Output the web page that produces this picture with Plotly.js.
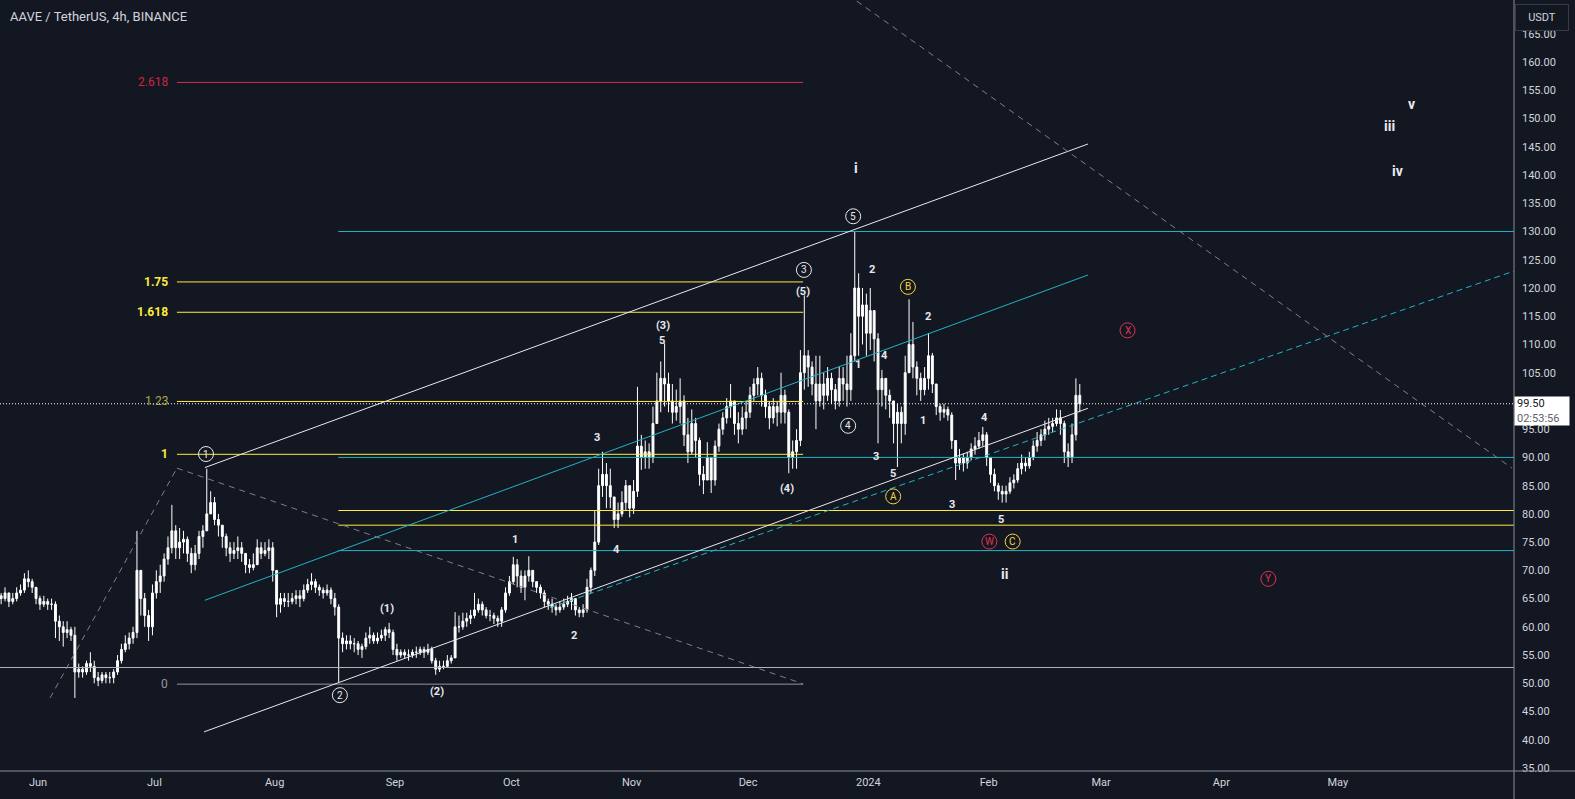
<!DOCTYPE html>
<html>
<head>
<meta charset="utf-8">
<script src="https://cdn.plot.ly/plotly-3.0.1.min.js"></script>
<style>html,body{margin:0;padding:0;background:#131722;}#chart{width:1575px;height:799px;}</style>
</head>
<body>
<div id="chart"></div>
<script>
// ---------------- DATA (daily bars) ----------------
const startDate = '2023-05-20';
const closes = [
66,65.5,65,66,64.5,65,66,66.5,68.5,68,67,65,
64,64.5,64,64,61,60,59,59.5,58.5,52,
52.5,52,53.5,53,51,50.5,51.5,51,51,52,
54,56,57,58,59,70,65,62,60,66,
68,69,72,74,77,74,75,75.5,73,71,
73,76,77,80,82,79,78,76,74,73,
73.5,74,73,71,70.5,71,74,73,73.5,74,
70,64,65,64.5,64.5,65,65.5,65,66.5,67.5,
68,67,66.5,66,66.5,65,63.5,58,57,57.5,
57,57,56,56.5,58,58.5,57.5,58,58.5,59.5,
59,56,55,55.5,55,55,55.5,55.5,56,55.5,
56,54,52.5,53,53,54,54.5,60,60,61,
61.5,62,63,64,63,62,62,61.5,61,63,
66,68,71,69,67,69,70,68,67,66,
64.5,64,63.5,63,63.5,64,64.5,65,63,62.5,
63,67,70,75,85,87,85,83,79,80,
82,85,81,84,92,90,91,90,96,100,
104,103,100,98,99,100,94,91,96,93,
87,86,90,86,92,95,97,99,100,96,
95,97,98,101,103,104,101,99,97,99,
98,101,98,90,91,93,105,108,106,103,
100,103,101,104,102,100,104,103,102,108,
120,115,117,112,116,111,102,104,101,100,
96,98,96,105,110,106,104,102,104,108,
103,99,98,98.5,97.5,93,89,90,89,90,
91.5,92,93,94,90,87,85,84,83.5,84,
85.5,86,88,89,88.5,90,92,93,94,95,
95.5,96,97,96,91,90,94,101,99.5
];
const highs = [
67,66.5,66,67,66,66,67,67.5,69.5,70,68.5,67,
65.5,65.5,65,65,64.5,62,61,61,60,60,
53.5,53,54,55.5,54,52,52,52,52,52.5,
55,57,58.5,59,60,77,70,66,63,67.5,
70,71,73,76,81.6,78,77.5,77,76,74,
74.5,77,78,88,84,83,80,78,76.5,75,
75,76,75,73,72,73,75.5,75,75,75.5,
75,70,66,66,66,66,66.5,66.5,67.5,68.5,
69.5,68.5,67.5,67,67.5,67,66,64,59,58.5,
58.5,58,57.5,57,59,60,59,59,59.5,60,
60.7,59.5,57,56,56,56,56,56.5,56.5,56.5,
57,56.5,54.5,54,54,55,55,62.6,62,62.5,
62.5,63,66,65,64.5,63.5,63,62.5,62,63.5,
67,69,72.4,72,70,70,72.5,70,68,67.5,
66.5,65,65,64,64.5,65,65.5,66,65,63.5,
64,68.5,70.5,80.5,88,91,89,88,83,82,
84,86,85,86,102.5,94,93,92.5,99,105,
107,110.2,105,103,102,104,101,97,98.5,97,
93.5,88.5,92.7,90,93,96,98,100.5,103,100,
98,99,100,102.5,104,106,105,102,100,100.5,
100,105,102,98.5,93,95,109,118.7,109,107,
108,108,105,106,105,103,106,106,108,112,
129.9,122.6,120,119,120,116,112,105.5,104,102,
100,99.5,99,108,118,114,107,105,106,112,
108.5,103,99.5,99.5,99,98,93,91.5,90.7,91,
92.5,93.6,94.5,95.4,94.5,90,88,85.5,85,85,
86.5,87,89,90.5,90,91,93,94.5,95,96.5,
97,97,98.5,98.4,96.5,92.5,96,104,103
];
const lows = [
65,64.5,64,64.5,63.5,64,64.5,65.5,66,67,66,64,
63,63.5,63,63,58,57.5,56.5,58,57.5,47.4,
51,51,51.5,52,50,49.5,50,50,50,50,
51.5,53.5,55.5,56,57,58,62,60,57.5,58.5,
65,66,68,71,73,72,72,73,71.5,69.5,
70,72,74,77,80,78,76,74,72.5,71.5,
72,72,71.5,69.5,69.5,70,71,72,72.5,72,
68,61.7,62.5,63.5,63.5,64,64,63.5,64.5,66,
66.5,66,65.5,65,65.5,64,62,50.2,55.5,56,
56,55.5,55,54.5,56,57,57,57,57.5,57.5,
58,55,54,54.5,54.5,54,54.5,54.5,55,54.5,
55,53.5,51.5,52,52.5,53,53.5,54.5,59,59.5,
60,60.5,61.5,62.5,62,61.5,61,60.5,60,60,
62.5,65.5,67.5,67,66,64.7,68,67,66,65,
63.5,63,62.5,62,62.5,63,63.5,63,62,61.7,
61.7,62.5,66,69,74.5,83,81,81,77.5,77.5,
79.5,80.5,79.4,80,83,87.8,88,88,89,96,
98,99,98,96,96.5,96,92,89,90.5,90,
85,83.5,86,83.7,85,91,94,96,97,94,
92.5,94,95,97,100,101,99,97,95,96,
95.5,96,96,87.2,88,88,92,102,102.5,101,
95,99,98.5,100,99.5,98.5,99,100,99,100,
107,108,110,108,109,107,92.5,99,98.5,97,
92.5,88.3,92.5,94,105,104,101,100,101,102,
101.4,97.5,96.5,97,96.5,91.5,86,87.8,87.5,88,
89.5,90.5,91.5,92,88.5,85.5,84,82.5,82,82,
83.5,84.5,85.5,87,87.5,88,89.5,91,92,93,
94,94.5,95.5,94,89,88.3,89,93,98
];
const lastPrice = 99.50;
const timerText = '02:53:56';

const monthTickDates = ['2023-06-01','2023-07-01','2023-08-01','2023-09-01','2023-10-01','2023-11-01','2023-12-01','2024-01-01','2024-02-01','2024-03-01','2024-04-01','2024-05-01'];
const monthTickText  = ['Jun','Jul','Aug','Sep','Oct','Nov','Dec','2024','Feb','Mar','Apr','May'];
// 100.00 sits under the last-price label, so it is not listed
const priceTicks = [35,40,45,50,55,60,65,70,75,80,85,90,95,105,110,115,120,125,130,135,140,145,150,155,160,165];

// Fibonacci trend extension (left) : base and level-1 prices, ratios
const fibBase = 49.85, fibOne = 90.55;
const fibRatios = [0, 1, 1.23, 1.618, 1.75, 2.618];
const fibLabels = ['0','1','1.23','1.618','1.75','2.618'];

// Right-extended horizontal levels (prices)
const cyanLevels = [130.0, 90.0, 73.5];
const yellowLevels = [80.6, 78.0];
const greyLevel = 52.8;

// Elliott wave labels : [text, day offset from 2023-06-01, price]
const circledWhite = [['1',43.3,90.6],['2',77.8,47.9],['3',197.4,123.2],['4',208.8,95.6],['5',210.1,132.7]];
const circledYellow = [['A',220.4,83.1],['B',224.2,120.2],['C',251.2,75.1]];
const circledRed = [['W',245.2,75.1],['X',280.8,112.5],['Y',317.1,68.5]];
const smallLabels = [['(1)',90.0,63.2],['(2)',102.8,48.5],['1',122.9,75.5],['2',138.1,58.4],['3',144.0,93.5],['4',149.0,73.7],
  ['(3)',161.2,113.3],['5',160.7,110.7],['(4)',193.0,84.5],['(5)',197.1,119.3],['2',214.9,123.3],['1',211.3,106.4],
  ['4',218.1,108.1],['2',229.3,115.0],['1',228.0,96.5],['3',215.9,90.2],['5',220.4,87.1],['4',243.9,97.1],['3',235.6,81.7],['5',248.3,79.0]];
const romanLabels = [['i',210.8,141.2],['ii',249.1,69.4],['iii',348.3,148.7],['iv',350.4,140.8],['v',353.9,152.6]];

// ---------------- helpers ----------------
const T0 = Date.UTC(2023,5,1);
function D(d){ return new Date(T0 + d*864e5).toISOString().slice(0,23).replace('T',' '); }
const startOffset = (Date.UTC(2023,4,20) - T0)/864e5;
const xs = [], opens = [];
for (let i=0;i<closes.length;i++){ xs.push(D(startOffset + i + 0.5)); opens.push(i===0?closes[0]:closes[i-1]); }

const BG='#131722', TXT='#d1d4dc', CYAN='#22b3c6', YEL='#ffeb3b', RED='#d0304a', GREY='#9598a1', WHITE='#e8e9ee';

const shapes = [];
const ann = [];
function seg(d0,p0,d1,p1,color,dash,width){ shapes.push({type:'line',xref:'x',yref:'y',x0:D(d0),y0:p0,x1:D(d1),y1:p1,line:{color:color,width:width||1,dash:dash||'solid'}}); }

// fib extension levels
const fibStart=35.8, fibEnd=197.2;
fibRatios.forEach((r,i)=>{
  const p = fibBase + r*(fibOne-fibBase);
  const col = r===0?GREY:(r===2.618?RED:YEL);
  seg(fibStart,p,fibEnd,p,col);
  const lcol = r===0?GREY:(r===2.618?'#c8283f':(r===1.23?'#a9a846':YEL));
  const txt = (r===0||r===2.618||r===1.23)?fibLabels[i]:'<b>'+fibLabels[i]+'</b>';
  ann.push({xref:'x',yref:'y',x:D(34.0),y:p,text:txt,showarrow:false,xanchor:'right',yanchor:'middle',font:{family:'Roboto',size:12,color:lcol}});
});
// right extended levels
const lvlStart=77.4, far=420;
cyanLevels.forEach(p=>seg(lvlStart,p,far,p,CYAN));
yellowLevels.forEach(p=>seg(lvlStart,p,far,p,YEL));
seg(-20,greyLevel,far,greyLevel,'#b2b5be');

// channel
seg(43.0,88.2,270.6,145.5,WHITE);
seg(43.0,64.7,270.6,122.3,CYAN);
seg(42.8,41.4,270.6,98.7,WHITE);
// dashed cyan trend
seg(132.0,63.4,380.4,123.0,CYAN,'6px,4px');
// grey dashed lines
seg(3.1,47.4,35.8,88.1,'#7d808a','6px,5px');
seg(35.8,88.1,197.2,49.9,'#7d808a','6px,5px');
seg(204.1,174.2,379.9,88.1,'#7d808a','6px,5px');
// last price dotted
shapes.push({type:'line',xref:'paper',yref:'y',x0:0,x1:1,y0:lastPrice,y1:lastPrice,line:{color:'#ffffff',width:1,dash:'1px,2px'}});

// circled labels
function circ(list,color){
  list.forEach(l=>{
    shapes.push({type:'circle',xref:'x',yref:'y',xsizemode:'pixel',ysizemode:'pixel',xanchor:D(l[1]),yanchor:l[2],x0:-7.5,x1:7.5,y0:-7.5,y1:7.5,line:{color:color,width:1}});
    ann.push({xref:'x',yref:'y',x:D(l[1]),y:l[2],text:l[0],showarrow:false,xanchor:'center',yanchor:'middle',font:{family:'Roboto',size:10,color:color}});
  });
}
circ(circledWhite,WHITE); circ(circledYellow,'#f5d63d'); circ(circledRed,'#e0334f');
smallLabels.forEach(l=>ann.push({xref:'x',yref:'y',x:D(l[1]),y:l[2],text:'<b>'+l[0]+'</b>',showarrow:false,xanchor:'center',yanchor:'middle',font:{family:'Roboto',size:11,color:WHITE}}));
romanLabels.forEach(l=>ann.push({xref:'x',yref:'y',x:D(l[1]),y:l[2],text:'<b>'+l[0]+'</b>',showarrow:false,xanchor:'center',yanchor:'middle',font:{family:'Roboto',size:14,color:WHITE}}));

// axis frame lines
shapes.push({type:'line',xref:'paper',yref:'paper',x0:1,x1:1,y0:-28/771,y1:1,line:{color:'#8a8d96',width:1}});
shapes.push({type:'line',xref:'paper',yref:'paper',x0:0,x1:1575/1514,y0:0,y1:0,line:{color:'#8a8d96',width:1}});

// title
ann.push({xref:'paper',yref:'paper',x:8/1514,y:(771-16)/771,text:'AAVE / TetherUS, 4h, BINANCE',showarrow:false,xanchor:'left',yanchor:'middle',font:{family:'Roboto',size:13,color:TXT}});
// USDT button
ann.push({xref:'paper',yref:'paper',x:1542/1514,y:(771-17.5)/771,text:'USDT',showarrow:false,xanchor:'center',yanchor:'middle',width:44,height:17,borderpad:4,bgcolor:BG,bordercolor:'#363a45',borderwidth:1,font:{family:'Roboto',size:11,color:TXT}});
// price label
ann.push({xref:'paper',yref:'paper',x:1.0,y:(771-411)/771,text:'<span style="color:#131722">99.50</span><br><span style="color:#5d606b">'+timerText+'</span>',showarrow:false,xanchor:'left',yanchor:'middle',align:'left',width:50,height:24,borderpad:2,bgcolor:'#ffffff',font:{family:'Roboto',size:11,color:'#131722'}});

const trace = {type:'candlestick',x:xs,open:opens,high:highs,low:lows,close:closes,
  increasing:{line:{color:'#ffffff',width:1},fillcolor:'#ffffff'},
  decreasing:{line:{color:'#ffffff',width:1},fillcolor:'#ffffff'},
  whiskerwidth:0,hoverinfo:'skip'};

const layout = {
  width:1575,height:799,paper_bgcolor:BG,plot_bgcolor:BG,
  margin:{l:0,r:61,t:0,b:28},showlegend:false,
  xaxis:{type:'date',range:[D(-9.794),D(380.41)],rangeslider:{visible:false},showgrid:false,zeroline:false,showline:false,
    tickmode:'array',tickvals:monthTickDates,ticktext:monthTickText,ticks:'',ticklabelstandoff:3,
    tickfont:{family:'Roboto',size:11,color:TXT},fixedrange:true},
  yaxis:{side:'right',range:[34.47,171.0],showgrid:false,zeroline:false,showline:false,tickmode:'array',tickvals:priceTicks,
    tickformat:'.2f',ticks:'',ticklabelstandoff:7,tickfont:{family:'Roboto',size:11,color:TXT},fixedrange:true},
  shapes:shapes,annotations:ann
};
Plotly.newPlot('chart',[trace],layout,{displayModeBar:false,staticPlot:true});
</script>
</body>
</html>
